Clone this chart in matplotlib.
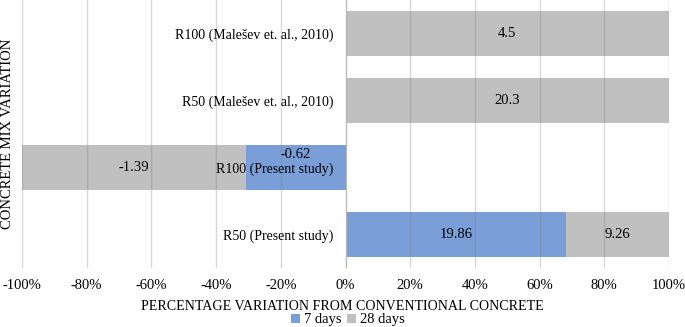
import matplotlib
matplotlib.use("Agg")
import matplotlib.pyplot as plt
import numpy as np
from matplotlib.ticker import FuncFormatter

categories = ["R50 (Present study)", "R100 (Present study)",
              "R50 (Malešev et. al., 2010)", "R100 (Malešev et. al., 2010)"]
days7 = [19.86, -0.62, 0.0, 0.0]
days28 = [9.26, -1.39, 20.3, 4.5]
series_names = ["7 days", "28 days"]
xticks = [-100, -80, -60, -40, -20, 0, 20, 40, 60, 80, 100]

plt.rcParams['font.family'] = ['Liberation Serif', 'DejaVu Serif']
FS = 10.5

fig = plt.figure(figsize=(6.85, 3.27), dpi=100)
ax = fig.add_axes([22/685, 1 - 268/327, (669 - 22)/685, 268/327])

d7 = np.array(days7)
d28 = np.array(days28)
tot = np.abs(d7) + np.abs(d28)
p7 = np.sign(d7 + d28) * np.abs(d7) / tot * 100
p28 = np.sign(d7 + d28) * np.abs(d28) / tot * 100
y = np.arange(len(categories))
h = 0.67
blue = "#7A9ED7"
grey = "#C0C0C0"
ax.barh(y, p7, height=h, color=blue, label=series_names[0], zorder=1)
ax.barh(y, p28, left=p7, height=h, color=grey, label=series_names[1], zorder=1)

for i in range(len(categories)):
    if d7[i] != 0:
        yy = y[i] + (0.2 if i == 1 else 0)
        ax.text(p7[i] / 2, yy, f"{d7[i]:g}", ha="center", va="center", fontsize=FS, zorder=3)
    ax.text(p7[i] + p28[i] / 2, y[i], f"{d28[i]:g}", ha="center", va="center", fontsize=FS, zorder=3)

ax.set_xlim(-100, 100)
ax.set_ylim(-0.5, len(categories) - 0.5)
ax.set_xticks(xticks)
ax.xaxis.set_major_formatter(FuncFormatter(lambda v, p: f"{v:.0f}%"))
ax.set_yticks(y)
ax.set_yticklabels(categories, fontsize=FS)
ax.tick_params(axis="y", length=0, pad=8.5)
ax.tick_params(axis="x", length=0, labelsize=FS, pad=8)
ax.grid(axis="x", color="#808080", alpha=0.3, linewidth=1, zorder=2)
ax.set_axisbelow(False)
for s in ["top", "right", "bottom"]:
    ax.spines[s].set_visible(False)
ax.spines["left"].set_position(("data", 0))
ax.spines["left"].set_color("#D0D0D0")
ax.spines["left"].set_zorder(2)

fig.text(0.5, 1 - 306/327, "PERCENTAGE VARIATION FROM CONVENTIONAL CONCRETE",
         ha="center", va="center", fontsize=10.1)
fig.text(8/685, 1 - 134/327, "CONCRETE MIX VARIATION", rotation=90,
         ha="center", va="center", fontsize=FS)
leg = fig.legend(loc="center", bbox_to_anchor=(348/685, 1 - 320/327), ncol=2, frameon=False,
                 fontsize=FS, handlelength=0.6, handleheight=0.6, handletextpad=0.3,
                 columnspacing=0.4, borderpad=0)
fig.savefig("out.png", dpi=100)
